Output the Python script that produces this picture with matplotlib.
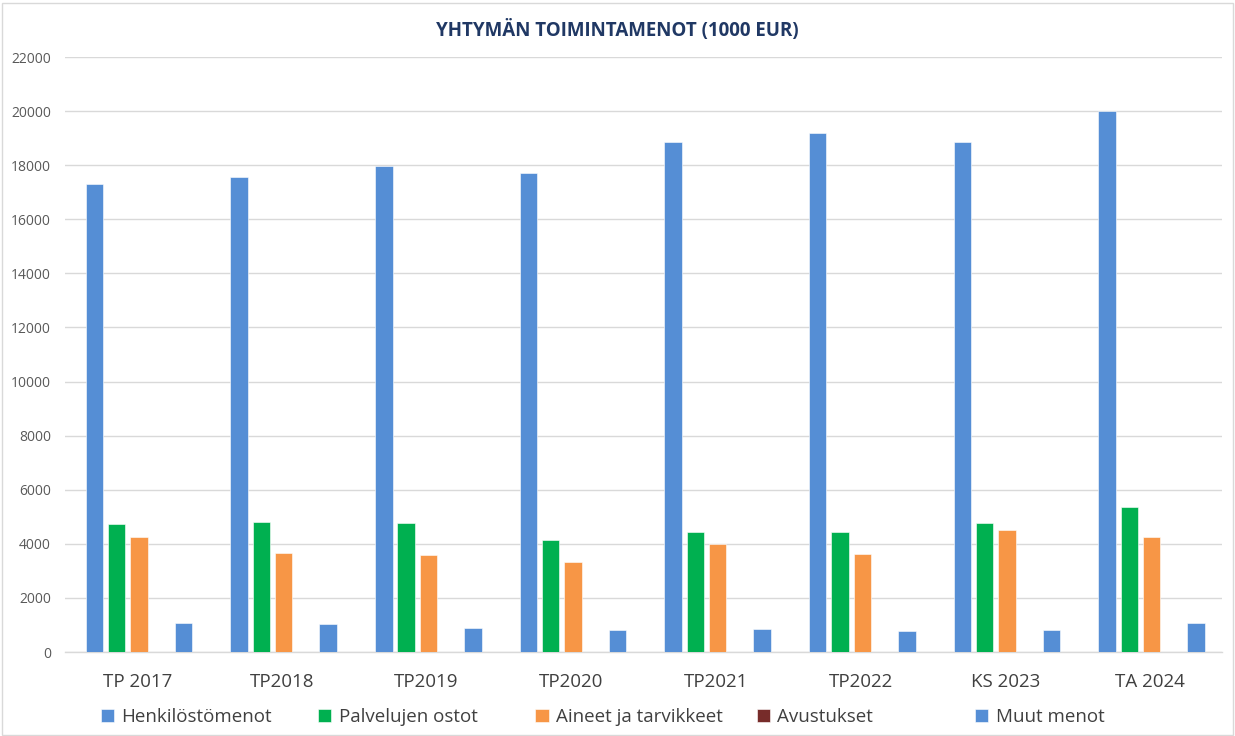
import numpy as np
import matplotlib
matplotlib.use('Agg')
import matplotlib.pyplot as plt
from matplotlib.patches import Rectangle

plt.rcParams['font.family'] = ['Open Sans', 'DejaVu Sans']

categories = ['TP 2017', 'TP2018', 'TP2019', 'TP2020', 'TP2021', 'TP2022', 'KS 2023', 'TA 2024']
henkilosto = [17300, 17560, 17970, 17710, 18870, 19190, 18850, 20020]
palvelut = [4720, 4800, 4770, 4130, 4440, 4440, 4760, 5360]
aineet = [4260, 3670, 3590, 3330, 3980, 3610, 4510, 4240]
avustukset = [0, 0, 0, 0, 0, 0, 0, 0]
muut = [1070, 1030, 900, 800, 860, 780, 800, 1070]

series = [
    ('Henkilöstömenot', henkilosto, '#558ED5'),
    ('Palvelujen ostot', palvelut, '#00B050'),
    ('Aineet ja tarvikkeet', aineet, '#F79646'),
    ('Avustukset', avustukset, '#772C2A'),
    ('Muut menot', muut, '#558ED5'),
]

fig = plt.figure(figsize=(12.35, 7.36), dpi=100)
ax = fig.add_axes([0.0526, 0.1141, 0.937, 0.8084])

x = np.arange(len(categories))
step = 0.154
width = 0.121
handles = []
for i, (name, vals, color) in enumerate(series):
    b = ax.bar(x + (i - 2) * step + 0.012, vals, width=width, color=color, label=name,
               edgecolor='white', linewidth=0.4, zorder=3)
    handles.append(b)

ax.set_xlim(-0.5, len(categories) - 0.5)
ax.set_ylim(0, 22000)
ax.set_yticks(range(0, 22001, 2000))
ax.yaxis.grid(True, color='#d9d9d9', linewidth=1.0, zorder=0)
for s in ['top', 'right', 'left']:
    ax.spines[s].set_visible(False)
ax.spines['bottom'].set_color('#d9d9d9')
ax.spines['bottom'].set_linewidth(1.0)
ax.tick_params(axis='y', length=0, labelsize=10, labelcolor='#595959', pad=10)
ax.tick_params(axis='x', length=0, labelsize=13.5, labelcolor='#404040', pad=15)
ax.set_xticks(x)
ax.set_xticklabels(categories)

fig.text(0.5, 0.958, 'YHTYMÄN TOIMINTAMENOT (1000 EUR)', ha='center', va='center',
         fontsize=13.5, fontweight='bold', color='#203864')

# one legend entry per slot, evenly spaced like the original
legend_left = [0.074, 0.250, 0.426, 0.605, 0.782]
for h, lx in zip(handles, legend_left):
    leg = fig.legend(handles=[h], loc='center left', bbox_to_anchor=(lx, 0.026),
                     frameon=False, fontsize=13.5, handlelength=0.7, handleheight=0.7,
                     handletextpad=0.4, borderpad=0, labelcolor='#404040')

fig.patches.append(Rectangle((0.002, 0.002), 0.996, 0.994, transform=fig.transFigure,
                             fill=False, edgecolor='#d9d9d9', linewidth=1.0))

fig.savefig('out.png', dpi=100)
